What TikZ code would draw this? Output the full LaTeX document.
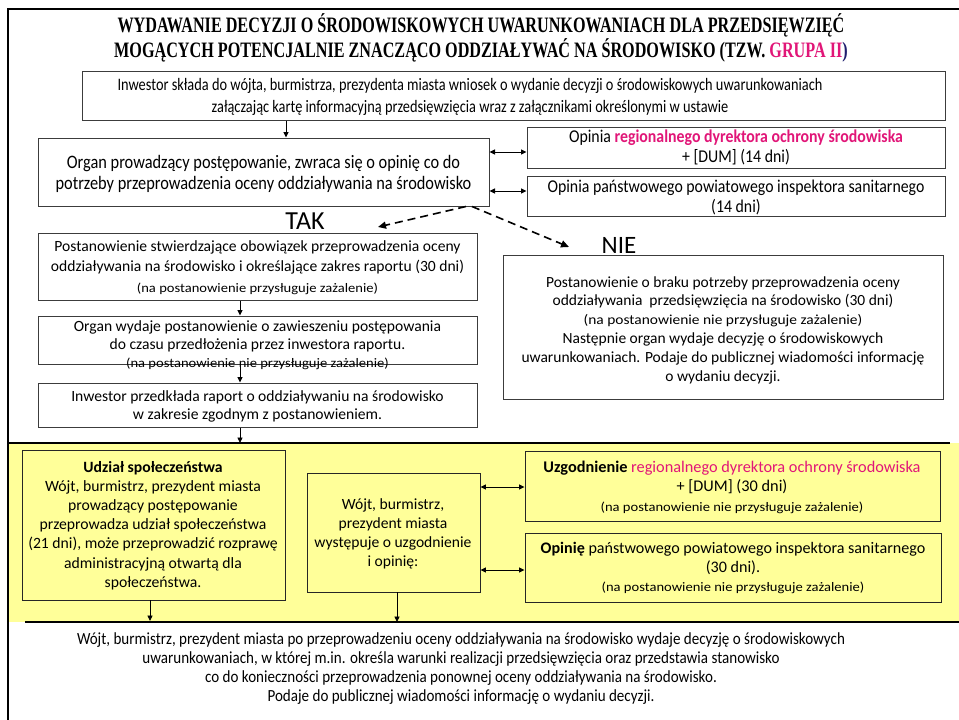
\documentclass[tikz,border=0pt]{standalone}
\usepackage{fontspec}
\setmainfont{Carlito}
\newfontfamily\condfont[FakeStretch=0.82]{Carlito}
\newfontfamily\condorg[FakeStretch=0.86]{Carlito}
\newfontfamily\condpp[FakeStretch=0.88]{Carlito}
\newfontfamily\condbot[FakeStretch=0.886]{Carlito}
\newfontfamily\widefont[FakeStretch=1.12]{Carlito}
\newfontfamily\titlefont[FakeStretch=0.735]{Liberation Serif}
\usetikzlibrary{arrows.meta}
\definecolor{mag}{RGB}{225,22,120}
\definecolor{navy}{RGB}{30,30,110}
\definecolor{yel}{RGB}{255,255,153}
\definecolor{bord}{RGB}{60,60,60}
\newcommand{\fsz}[2]{\fontsize{#1}{#2}\selectfont}
\newcommand{\smalltxt}[1]{{\widefont\fsz{13}{19}#1}}
\newcommand{\bx}[6]{\node[#6, minimum width={#4-#2}, minimum height={#5-#3}] (#1) at ({(#2+#4)/2},{(#3+#5)/2}) {};}
\begin{document}
\begin{tikzpicture}[x=1pt,y=-1pt,
  box/.style={draw=bord, line width=1pt, inner sep=0pt, fill=white},
  ybox/.style={draw=black!85, line width=0.9pt, inner sep=0pt, fill=yel},
  txt/.style={inner sep=0pt, align=center},
  arr/.style={line width=0.9pt, -{Triangle[length=5.5pt,width=5pt]}},
  darr/.style={line width=0.9pt, {Triangle[length=5.5pt,width=5pt]}-{Triangle[length=5.5pt,width=5pt]}},
  dsh/.style={line width=1.6pt, dash pattern=on 8pt off 5pt, -{Triangle[length=8pt,width=7pt]}}]
\useasboundingbox (0,0) rectangle (959,720);
\fill[white] (0,0) rectangle (959,720);
% frame
\draw[line width=2.2pt] (959,9) -- (8,9) -- (8,720);
% title
\node[txt, font=\titlefont\bfseries\fsz{22}{21}] (title) at (481,38)
 {WYDAWANIE DECYZJI O ŚRODOWISKOWYCH UWARUNKOWANIACH DLA PRZEDSIĘWZIĘĆ\\
  MOGĄCYCH POTENCJALNIE ZNACZĄCO ODDZIAŁYWAĆ NA ŚRODOWISKO (TZW. {\color{mag}GRUPA II}{\color{navy})}};
% boxes upper
\bx{top}{82}{71}{945}{120}{box}
\bx{organ}{38}{138}{489}{206}{box}
\bx{rdos}{527}{127}{945}{168}{box}
\bx{ppis}{527}{176}{945}{216}{box}
\bx{b1}{38}{233}{477}{300}{box}
\bx{b2}{38}{316}{477}{364}{box}
\bx{b3}{38}{383}{477}{427}{box}
\bx{nie}{503}{255}{943}{399}{box}
% yellow band
\fill[yel] (8,443) rectangle (959,622);
\draw[line width=2pt] (8,443) -- (950,443);
\draw[line width=2pt] (25,622) -- (959,622);
\draw[line width=2.2pt] (8,9) -- (8,720);
\bx{udz}{22}{450}{285}{600}{ybox}
\bx{wojt}{307}{473}{480}{592}{ybox}
\bx{uzg}{525}{451}{940}{521}{ybox}
\bx{opi}{525}{533}{941}{602}{ybox}
% texts
\node[txt, font=\condfont\fsz{17.5}{22}] (ttop) at (470,96.5)
 {Inwestor składa do wójta, burmistrza, prezydenta miasta wniosek o wydanie decyzji o środowiskowych uwarunkowaniach\\
  załączając kartę informacyjną przedsięwzięcia wraz z załącznikami określonymi w ustawie};
\node[txt, font=\condorg\fsz{19}{21}] (torgan) at (263.5,173.5)
 {Organ prowadzący postępowanie, zwraca się o opinię co do\\
  potrzeby przeprowadzenia oceny oddziaływania na środowisko};
\node[txt, font=\condpp\fsz{18}{20}] (trdos) at (736,147.5)
 {Opinia {\color{mag}\bfseries regionalnego dyrektora ochrony środowiska}\\ + [DUM] (14 dni)};
\node[txt, font=\condpp\fsz{18}{20}] (tppis) at (736,197.5)
 {Opinia państwowego powiatowego inspektora sanitarnego\\ (14 dni)};
\node[txt, font=\fsz{26}{26}] (tak) at (305,221) {TAK};
\node[txt, font=\fsz{25}{25}] (tnie) at (619,245) {NIE};
\node[txt, font=\fsz{15.6}{20.5}] (tb1) at (257.5,267.5)
 {Postanowienie stwierdzające obowiązek przeprowadzenia oceny\\
  oddziaływania na środowisko i określające zakres raportu (30 dni)\\
  \smalltxt{(na postanowienie przysługuje zażalenie)}};
\node[txt, font=\fsz{15.6}{18}] (tb2) at (257.5,345)
 {Organ wydaje postanowienie o zawieszeniu postępowania\\
  do czasu przedłożenia przez inwestora raportu.\\
  {\widefont\fsz{13}{19}(na postanowienie nie przysługuje zażalenie)}};
\node[txt, font=\fsz{15.6}{18}] (tb3) at (257.5,406)
 {Inwestor przedkłada raport o oddziaływaniu na środowisko\\
  w zakresie zgodnym z postanowieniem.};
\node[txt, font=\fsz{15.5}{18.8}] (tnie2) at (723,330)
 {Postanowienie o braku potrzeby przeprowadzenia oceny\\
  oddziaływania\ \ przedsięwzięcia na środowisko (30 dni)\\
  {\widefont\fsz{13.8}{17}(na postanowienie nie przysługuje zażalenie)}\\
  Następnie organ wydaje decyzję o środowiskowych\\
  uwarunkowaniach. Podaje do publicznej wiadomości informację\\
  o wydaniu decyzji.};
\node[txt, font=\fsz{15.7}{19.2}] (tudz) at (153,525.5)
 {\textbf{Udział społeczeństwa}\\
  Wójt, burmistrz, prezydent miasta\\
  prowadzący postępowanie\\
  przeprowadza udział społeczeństwa\\
  (21 dni), może przeprowadzić rozprawę\\
  administracyjną otwartą dla\\
  społeczeństwa.};
\node[txt, font=\fsz{15.6}{19.2}] (twojt) at (393,534)
 {Wójt, burmistrz,\\ prezydent miasta\\ występuje o uzgodnienie\\ i opinię:};
\node[txt, font=\fsz{16.3}{19.5}] (tuzg) at (732,487)
 {\textbf{Uzgodnienie} {\color{mag}regionalnego dyrektora ochrony środowiska}\\
  + [DUM] (30 dni)\\
  \smalltxt{(na postanowienie nie przysługuje zażalenie)}};
\node[txt, font=\fsz{16.1}{19}] (topi) at (733,568)
 {\textbf{Opinię} państwowego powiatowego inspektora sanitarnego\\
  (30 dni).\\
  \smalltxt{(na postanowienie nie przysługuje zażalenie)}};
\node[txt, font=\condbot\fsz{17}{19}] (tbot) at (461,668.5)
 {Wójt, burmistrz, prezydent miasta po przeprowadzeniu oceny oddziaływania na środowisko wydaje decyzję o środowiskowych\\
  uwarunkowaniach, w której m.in. określa warunki realizacji przedsięwzięcia oraz przedstawia stanowisko\\
  co do konieczności przeprowadzenia ponownej oceny oddziaływania na środowisko.\\
  Podaje do publicznej wiadomości informację o wydaniu decyzji.};
% helper coordinates
\coordinate (x286) at (286,0);
\coordinate (x240) at (240,0);
\coordinate (x150) at (150,0);
\coordinate (x397) at (397,0);
\coordinate (x466) at (466,0);
\coordinate (x472) at (472,0);
\coordinate (y152) at (0,152);
\coordinate (y191) at (0,191);
\coordinate (y487) at (0,487);
\coordinate (y570) at (0,570);
\coordinate (takend) at (378,227);
\coordinate (nieend) at (569,247);
\coordinate (ytop) at (240,443);
\coordinate (bot1) at (150,621);
\coordinate (bot2) at (397,622);
% connectors
\draw[arr] (x286 |- top.south) -- (x286 |- organ.north);
\draw[darr] (organ.east |- y152) -- (rdos.west |- y152);
\draw[darr] (organ.east |- y191) -- (ppis.west |- y191);
\draw[dsh] (x466 |- organ.south) -- (takend);
\draw[dsh] (x472 |- organ.south) -- (nieend);
\draw[arr] (x240 |- b1.south) -- (x240 |- b2.north);
\draw[arr] (x240 |- b2.south) -- (x240 |- b3.north);
\draw[arr] (x240 |- b3.south) -- (ytop);
\draw[arr] (x150 |- udz.south) -- (bot1);
\draw[arr] (x397 |- wojt.south) -- (bot2);
\draw[darr] (wojt.east |- y487) -- (uzg.west |- y487);
\draw[darr] (wojt.east |- y570) -- (opi.west |- y570);
\end{tikzpicture}
\end{document}
